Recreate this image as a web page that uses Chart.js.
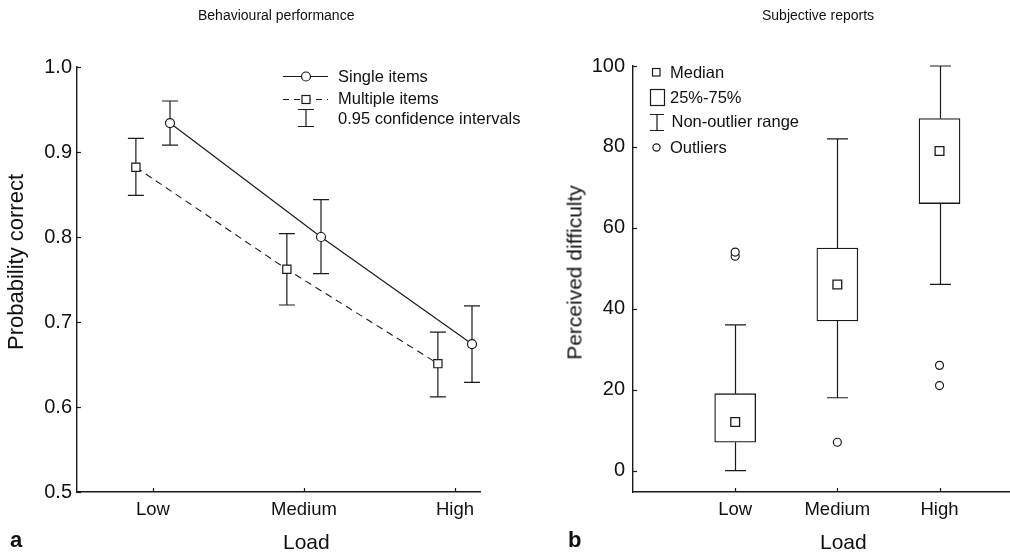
<!DOCTYPE html>
<html>
<head>
<meta charset="utf-8">
<script src="https://cdn.jsdelivr.net/npm/chart.js@4.4.1/dist/chart.umd.min.js"></script>
<style>
    body { margin: 0; background: #fff; }
    #wrap { position: relative; width: 1010px; height: 554px; overflow: hidden; font-family: "Liberation Sans", Arial, sans-serif; color: #111; }
    canvas { position: absolute; top: 0; }
    .lbl { position: absolute; white-space: nowrap; }
    .rot { position: absolute; width: 260px; text-align: center; white-space: nowrap; transform: rotate(-90deg); }
</style>
</head>
<body>
<div id="wrap">
    <canvas id="perfChart" width="560" height="554" style="left:0"></canvas>
    <canvas id="reportChart" width="505" height="554" style="left:505px"></canvas>

    <div class="lbl" style="left:198px; top:8px; font-size:14px; line-height:14px;">Behavioural performance</div>
    <div class="lbl" style="left:762px; top:8px; font-size:14px; line-height:14px;">Subjective reports</div>

    <div class="rot" style="left:-114px; top:251px; font-size:22px; line-height:22px;">Probability correct</div>
    <div class="rot" style="left:444px; top:262px; font-size:21px; line-height:21px;">Perceived difficulty</div>

    <div class="lbl" style="left:283px; top:531px; font-size:21px; line-height:21px;">Load</div>
    <div class="lbl" style="left:820px; top:531px; font-size:21px; line-height:21px;">Load</div>

    <div class="lbl" style="left:10px; top:529px; font-size:22px; line-height:22px; font-weight:bold;">a</div>
    <div class="lbl" style="left:568px; top:529px; font-size:22px; line-height:22px; font-weight:bold;">b</div>
</div>

<script>
// 负荷水平
const loads = ['Low', 'Medium', 'High'];
const loadPos = [1, 2, 3];

// a: 正确率均值与 95% 置信区间
const singleMean = [0.934, 0.800, 0.674];
const singleLo = [0.908, 0.757, 0.629];
const singleHi = [0.960, 0.844, 0.719];
const multiMean = [0.882, 0.762, 0.651];
const multiLo = [0.849, 0.720, 0.612];
const multiHi = [0.916, 0.804, 0.688];
const probTicks = [0.5, 0.6, 0.7, 0.8, 0.9, 1.0];

// b: 主观难度箱线图
const boxQ1 = [7, 37, 66];
const boxQ3 = [19, 55, 87];
const boxMedian = [12, 46, 79];
const whiskerLo = [0, 18, 46];
const whiskerHi = [36, 82, 100];
const outliers = [[53, 54], [7], [21, 26]];
const diffTicks = [0, 20, 40, 60, 80, 100];

const ink = '#1a1a1a';
const fontFamily = 'Liberation Sans, Arial, sans-serif';
const jitter = 0.113;   // 两组数据点左右错开

function fixedTicks(values) {
    return function(scale) {
        scale.ticks = values.map(v => ({ value: v }));
    };
}

// 刻度线朝内
const inwardTicks = {
    id: 'inwardTicks',
    afterDraw(chart) {
        const { ctx, chartArea } = chart;
        const xs = chart.scales.x;
        const ys = chart.scales.y;
        ctx.save();
        ctx.strokeStyle = ink;
        ctx.lineWidth = 1.2;
        xs.ticks.forEach(t => {
            const px = Math.round(xs.getPixelForValue(t.value)) + 0.5;
            ctx.beginPath();
            ctx.moveTo(px, chartArea.bottom);
            ctx.lineTo(px, chartArea.bottom - 4);
            ctx.stroke();
        });
        ys.ticks.forEach(t => {
            const py = Math.round(ys.getPixelForValue(t.value)) + 0.5;
            ctx.beginPath();
            ctx.moveTo(chartArea.left, py);
            ctx.lineTo(chartArea.left + 4, py);
            ctx.stroke();
        });
        ctx.restore();
    }
};

// 误差线
const errorBars = {
    id: 'errorBars',
    beforeDatasetsDraw(chart) {
        const { ctx } = chart;
        const xs = chart.scales.x;
        const ys = chart.scales.y;
        ctx.save();
        ctx.strokeStyle = ink;
        ctx.lineWidth = 1.2;
        chart.data.datasets.forEach(ds => {
            if (!ds.ciLo) return;
            ds.data.forEach((pt, i) => {
                const px = xs.getPixelForValue(pt.x);
                const top = ys.getPixelForValue(ds.ciHi[i]);
                const bot = ys.getPixelForValue(ds.ciLo[i]);
                ctx.beginPath();
                ctx.moveTo(px, top);
                ctx.lineTo(px, bot);
                ctx.moveTo(px - 8, top);
                ctx.lineTo(px + 8, top);
                ctx.moveTo(px - 8, bot);
                ctx.lineTo(px + 8, bot);
                ctx.stroke();
            });
        });
        ctx.restore();
    }
};

// 图 a 图例
const perfLegend = {
    id: 'perfLegend',
    afterDraw(chart) {
        const ctx = chart.ctx;
        ctx.save();
        ctx.strokeStyle = ink;
        ctx.lineWidth = 1.2;
        // Single items
        ctx.beginPath();
        ctx.moveTo(283, 76.5);
        ctx.lineTo(328, 76.5);
        ctx.stroke();
        ctx.beginPath();
        ctx.arc(306, 76.5, 4.5, 0, Math.PI * 2);
        ctx.fillStyle = '#fff';
        ctx.fill();
        ctx.stroke();
        // Multiple items
        ctx.setLineDash([6, 5]);
        ctx.beginPath();
        ctx.moveTo(283, 99.5);
        ctx.lineTo(328, 99.5);
        ctx.stroke();
        ctx.setLineDash([]);
        ctx.fillRect(302, 95.5, 8, 8);
        ctx.strokeRect(302, 95.5, 8, 8);
        // confidence intervals
        ctx.beginPath();
        ctx.moveTo(306, 109);
        ctx.lineTo(306, 126);
        ctx.moveTo(298, 109.5);
        ctx.lineTo(314, 109.5);
        ctx.moveTo(298, 126.5);
        ctx.lineTo(314, 126.5);
        ctx.stroke();

        ctx.fillStyle = '#111';
        ctx.font = '16.5px ' + fontFamily;
        ctx.textBaseline = 'middle';
        ctx.fillText('Single items', 338, 77);
        ctx.fillText('Multiple items', 338, 99.5);
        ctx.fillText('0.95 confidence intervals', 338, 119.5);
        ctx.restore();
    }
};

// 箱线图的须
const whiskers = {
    id: 'whiskers',
    beforeDatasetsDraw(chart) {
        const { ctx } = chart;
        const xs = chart.scales.x;
        const ys = chart.scales.y;
        ctx.save();
        ctx.strokeStyle = ink;
        ctx.lineWidth = 1.2;
        loadPos.forEach((x, i) => {
            const px = Math.round(xs.getPixelForValue(x)) + 0.5;
            const hi = ys.getPixelForValue(whiskerHi[i]);
            const lo = ys.getPixelForValue(whiskerLo[i]);
            ctx.beginPath();
            ctx.moveTo(px, hi);
            ctx.lineTo(px, ys.getPixelForValue(boxQ3[i]));
            ctx.moveTo(px, ys.getPixelForValue(boxQ1[i]));
            ctx.lineTo(px, lo);
            ctx.moveTo(px - 10.5, hi);
            ctx.lineTo(px + 10.5, hi);
            ctx.moveTo(px - 10.5, lo);
            ctx.lineTo(px + 10.5, lo);
            ctx.stroke();
        });
        ctx.restore();
    }
};

// 图 b 图例
const reportLegend = {
    id: 'reportLegend',
    afterDraw(chart) {
        const ctx = chart.ctx;
        ctx.save();
        ctx.strokeStyle = ink;
        ctx.lineWidth = 1.2;
        ctx.strokeRect(147.5, 68.5, 7.5, 7.5);
        ctx.strokeRect(145.5, 89.5, 14, 16);
        ctx.beginPath();
        ctx.moveTo(152, 114);
        ctx.lineTo(152, 130);
        ctx.moveTo(145, 114.5);
        ctx.lineTo(159, 114.5);
        ctx.moveTo(145, 130.5);
        ctx.lineTo(159, 130.5);
        ctx.stroke();
        ctx.beginPath();
        ctx.arc(151.5, 147.5, 3.6, 0, Math.PI * 2);
        ctx.stroke();

        ctx.fillStyle = '#111';
        ctx.font = '16.5px ' + fontFamily;
        ctx.textBaseline = 'middle';
        ctx.fillText('Median', 165, 73.5);
        ctx.fillText('25%-75%', 165, 98.5);
        ctx.fillText('Non-outlier range', 166.5, 122.5);
        ctx.fillText('Outliers', 165, 148);
        ctx.restore();
    }
};

function axisStyle(tickSize, pad) {
    return {
        grid: { drawOnChartArea: false, drawTicks: false },
        border: { display: true, color: ink, width: 1.4 },
        ticks: { color: '#111', padding: pad, font: { family: fontFamily, size: tickSize } }
    };
}

// 图 a
new Chart(document.getElementById('perfChart'), {
    type: 'scatter',
    data: {
        datasets: [{
            label: 'Single items',
            data: loadPos.map((x, i) => ({ x: x + jitter, y: singleMean[i] })),
            ciLo: singleLo,
            ciHi: singleHi,
            showLine: true,
            borderColor: ink,
            borderWidth: 1.2,
            pointStyle: 'circle',
            pointRadius: 4.5,
            pointBackgroundColor: '#fff',
            pointBorderColor: ink,
            pointBorderWidth: 1.2
        }, {
            label: 'Multiple items',
            data: loadPos.map((x, i) => ({ x: x - jitter, y: multiMean[i] })),
            ciLo: multiLo,
            ciHi: multiHi,
            showLine: true,
            borderColor: ink,
            borderWidth: 1.1,
            borderDash: [7, 5],
            pointStyle: 'rect',
            pointRadius: 5.8,
            pointBackgroundColor: '#fff',
            pointBorderColor: ink,
            pointBorderWidth: 1.2
        }]
    },
    options: {
        responsive: false,
        animation: false,
        events: [],
        layout: { autoPadding: false, padding: { top: 67, right: 80, bottom: 0, left: 0 } },
        plugins: { legend: { display: false }, tooltip: { enabled: false } },
        scales: {
            x: Object.assign(axisStyle(18.5, 7), {
                type: 'linear',
                min: 0.497,
                max: 3.166,
                afterBuildTicks: fixedTicks(loadPos),
                afterFit: s => { s.height = 62; }
            }),
            y: Object.assign(axisStyle(20, 5), {
                type: 'linear',
                min: 0.5,
                max: 1.0,
                afterBuildTicks: fixedTicks(probTicks),
                afterFit: s => { s.width = 77; }
            })
        }
    },
    plugins: [errorBars, inwardTicks, perfLegend]
});
Chart.getChart('perfChart').options.scales.x.ticks.callback = v => loads[loadPos.indexOf(v)] || '';
Chart.getChart('perfChart').options.scales.y.ticks.callback = v => v.toFixed(1);
Chart.getChart('perfChart').update();

// 图 b
new Chart(document.getElementById('reportChart'), {
    type: 'bar',
    data: {
        datasets: [{
            type: 'bar',
            label: '25%-75%',
            order: 3,
            data: loadPos.map((x, i) => ({ x: x, y: [boxQ1[i], boxQ3[i]] })),
            backgroundColor: '#fff',
            borderColor: ink,
            borderWidth: 1.3,
            borderSkipped: false,
            barThickness: 41
        }, {
            type: 'scatter',
            label: 'Median',
            order: 1,
            data: loadPos.map((x, i) => ({ x: x, y: boxMedian[i] })),
            pointStyle: 'rect',
            pointRadius: 6.2,
            pointBackgroundColor: '#fff',
            pointBorderColor: ink,
            pointBorderWidth: 1.3
        }, {
            type: 'scatter',
            label: 'Outliers',
            order: 1,
            data: outliers.flatMap((vals, i) => vals.map(v => ({ x: loadPos[i], y: v }))),
            pointStyle: 'circle',
            pointRadius: 4,
            pointBackgroundColor: '#fff',
            pointBorderColor: ink,
            pointBorderWidth: 1.2
        }]
    },
    options: {
        responsive: false,
        animation: false,
        events: [],
        layout: { autoPadding: false, padding: { top: 66, right: 1, bottom: 0, left: 0 } },
        plugins: { legend: { display: false }, tooltip: { enabled: false } },
        scales: {
            x: Object.assign(axisStyle(18.5, 7), {
                type: 'linear',
                offset: false,
                min: 0,
                max: 3.68,
                afterBuildTicks: fixedTicks(loadPos),
                afterFit: s => { s.height = 62; }
            }),
            y: Object.assign(axisStyle(20, 8), {
                type: 'linear',
                min: -5.3,
                max: 100,
                afterBuildTicks: fixedTicks(diffTicks),
                afterFit: s => { s.width = 128; }
            })
        }
    },
    plugins: [whiskers, inwardTicks, reportLegend]
});
Chart.getChart('reportChart').options.scales.x.ticks.callback = v => loads[loadPos.indexOf(v)] || '';
Chart.getChart('reportChart').update();
</script>
</body>
</html>
